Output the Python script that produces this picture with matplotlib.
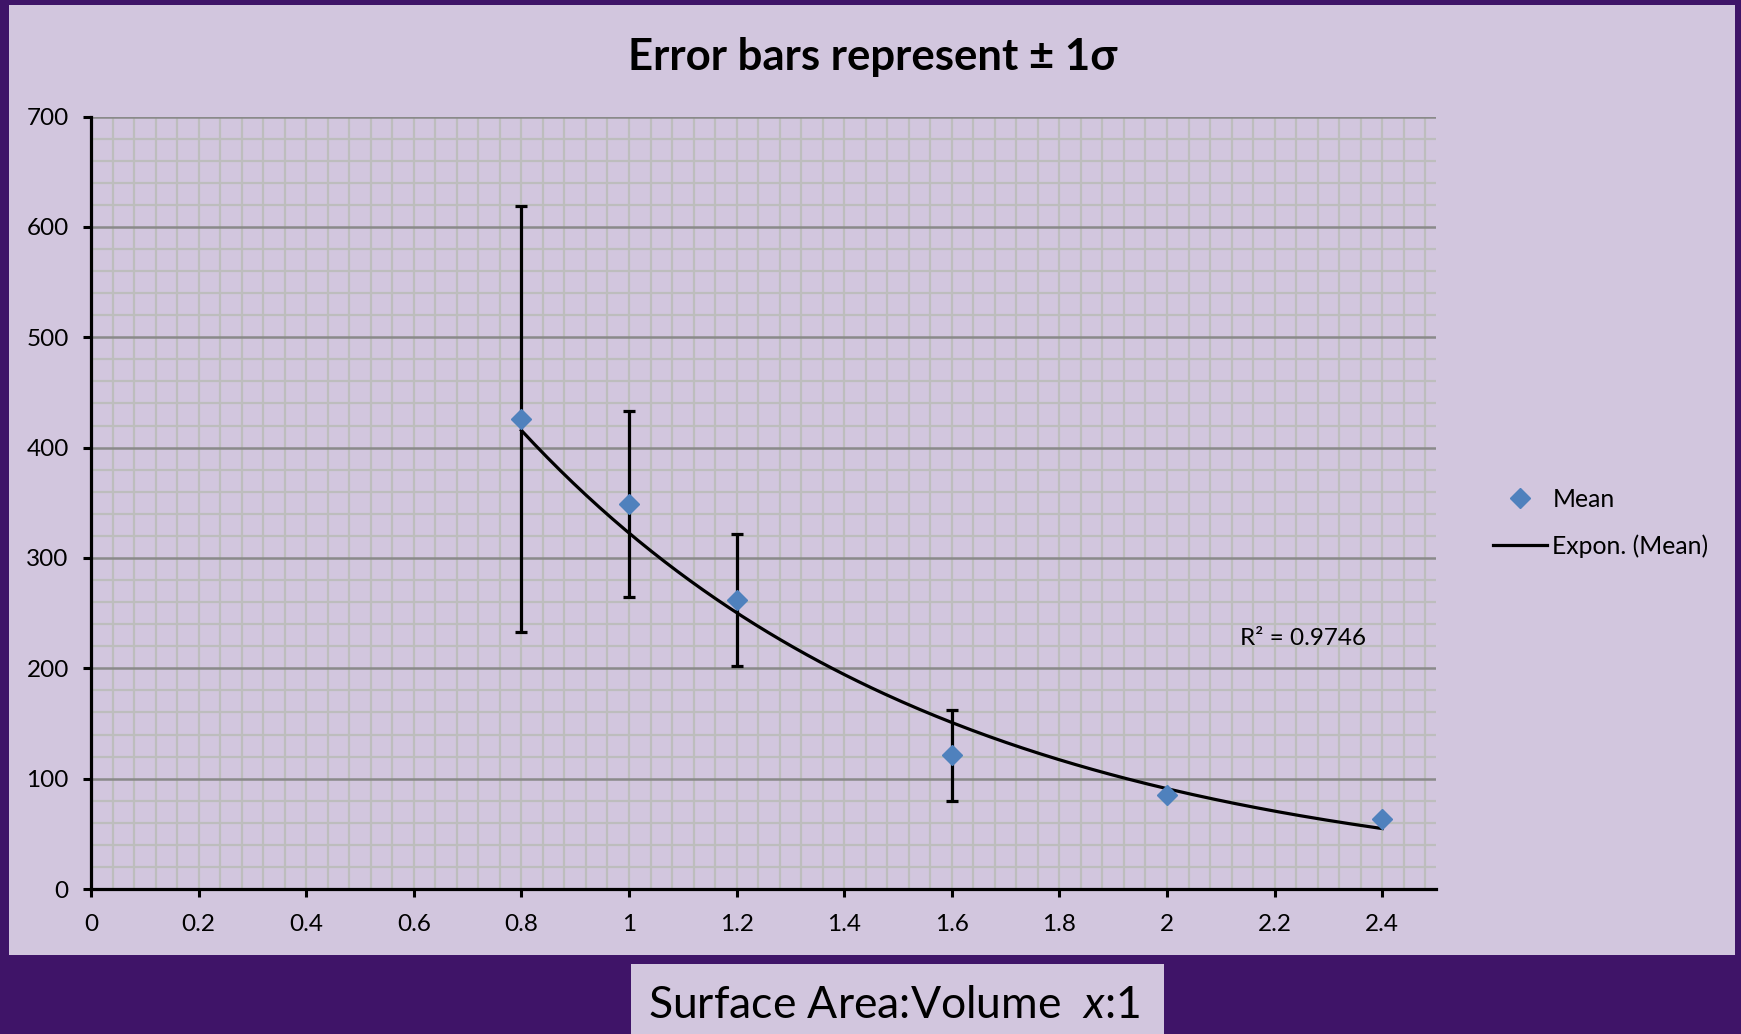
import numpy as np
import matplotlib
matplotlib.use("Agg")
import matplotlib.pyplot as plt
from matplotlib.patches import Rectangle
from matplotlib.lines import Line2D
from matplotlib.ticker import MultipleLocator

plt.rcParams["font.family"] = ["Lato", "DejaVu Sans"]
plt.rcParams["mathtext.fontset"] = "custom"
plt.rcParams["mathtext.rm"] = "Lato"
plt.rcParams["mathtext.it"] = "Lato:italic"

# Datos
razon_sa_v = [0.8, 1.0, 1.2, 1.6, 2.0, 2.4]
media = [426, 349, 262, 121, 85, 63]
desviacion = [193, 84, 59.5, 41, 0, 0]
texto_r2 = "R² = 0.9746"

lavanda = "#d2c6de"
morado = "#3f1468"
azul = "#4f81bd"

x = np.array(razon_sa_v)
y = np.array(media)
sd = np.array(desviacion)

# Ajuste exponencial tipo Excel: ln(y) = ln(a) + b x
b, ln_a = np.polyfit(x, np.log(y), 1)
x_fit = np.linspace(x.min(), x.max(), 200)
y_fit = np.exp(ln_a) * np.exp(b * x_fit)

fig = plt.figure(figsize=(17.41, 10.34), dpi=100)
fig.patch.set_facecolor(morado)

# Paneles de fondo
fig.patches.append(Rectangle((0.0052, 0.0764), 0.9914, 0.9183, transform=fig.transFigure,
                             facecolor=lavanda, edgecolor="none", zorder=-2))
fig.patches.append(Rectangle((631 / 1741, 0), 533 / 1741, 70 / 1034, transform=fig.transFigure,
                             facecolor=lavanda, edgecolor="none", zorder=-2))

ax = fig.add_axes([91 / 1741, 1 - 889 / 1034, (1436 - 91) / 1741, (889 - 116.6) / 1034])
ax.set_zorder(1)
ax.set_facecolor("none")
ax.set_xlim(0, 2.5)
ax.set_ylim(0, 700)

ax.xaxis.set_major_locator(MultipleLocator(0.2))
ax.xaxis.set_minor_locator(MultipleLocator(0.04))
ax.yaxis.set_major_locator(MultipleLocator(100))
ax.yaxis.set_minor_locator(MultipleLocator(20))
ax.set_xticks([0, 0.2, 0.4, 0.6, 0.8, 1.0, 1.2, 1.4, 1.6, 1.8, 2.0, 2.2, 2.4])
ax.set_xticklabels(["0", "0.2", "0.4", "0.6", "0.8", "1", "1.2", "1.4", "1.6", "1.8", "2", "2.2", "2.4"])

ax.grid(which="minor", color="#bdbdbd", linewidth=1.6, zorder=1)
ax.grid(which="major", axis="x", color="#bdbdbd", linewidth=1.6, zorder=1)
ax.grid(which="major", axis="y", color="#8a8a8a", linewidth=1.8, zorder=1)
ax.set_axisbelow(True)

for s in ["top", "right"]:
    ax.spines[s].set_visible(False)
for s in ["left", "bottom"]:
    ax.spines[s].set_linewidth(2.3)
    ax.spines[s].set_color("black")

ax.tick_params(which="major", direction="out", length=6, width=2.2, labelsize=17.5,
               colors="black")
ax.tick_params(axis="x", pad=12)
ax.tick_params(axis="y", pad=10)
ax.tick_params(which="minor", length=0)

# Tendencia exponencial
ax.plot(x_fit, y_fit, color="black", linewidth=2.3, zorder=3)

# Barras de error (solo donde hay desviacion)
con_sd = sd > 0
ax.errorbar(x[con_sd], y[con_sd], yerr=sd[con_sd], fmt="none", ecolor="black",
            elinewidth=2.3, capsize=4.5, capthick=2.3, zorder=4)
ax.plot(x, y, linestyle="none", marker="D", markersize=9.7, color=azul, zorder=5)

ax.text(2.135, 221, texto_r2, fontsize=17.5, va="baseline", ha="left", zorder=6)

fig.text(0.501, 1 - 70 / 1034, "Error bars represent ± 1σ", ha="center", va="baseline",
         fontsize=31.5, fontweight="bold")
fig.text(894.5 / 1741, 1 - 1018 / 1034, r"Surface Area:Volume  $x$:1", ha="center",
         va="baseline", fontsize=32)

handles = [
    Line2D([], [], linestyle="none", marker="D", markersize=9.7, color=azul),
    Line2D([], [], color="black", linewidth=2.3),
]
fig.legend(handles, ["Mean", "Expon. (Mean)"], loc="upper left",
           bbox_to_anchor=(1493 / 1741, 1 - 488 / 1034), frameon=False, fontsize=17.8,
           handlelength=2.2, handletextpad=0.2, labelspacing=0.95, borderpad=0,
           borderaxespad=0)

fig.savefig("out.png", dpi=100, facecolor=fig.get_facecolor())
